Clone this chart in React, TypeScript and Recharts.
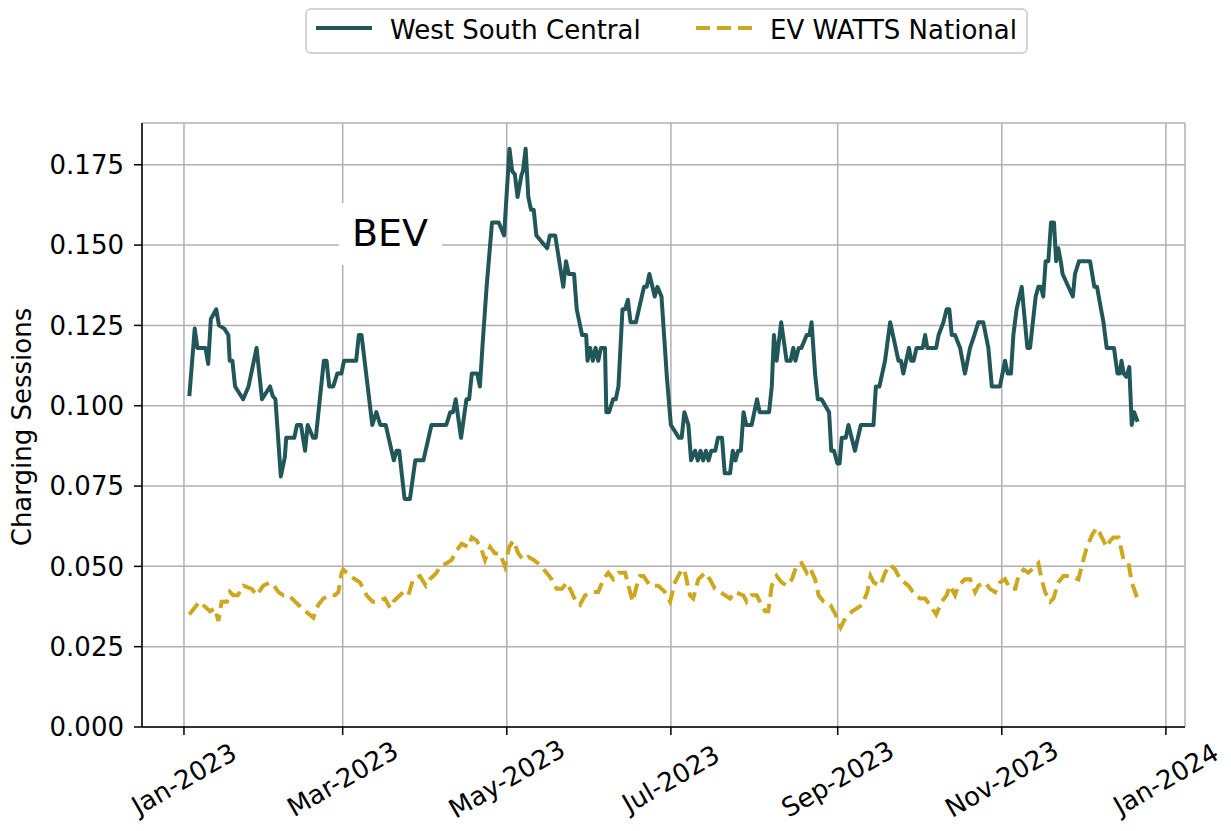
import React from 'react';
import {
  LineChart,
  Line,
  XAxis,
  YAxis,
  CartesianGrid,
  Customized,
} from 'recharts';

const FONT = '"DejaVu Sans", Verdana, sans-serif';
const TEAL = '#22575a';
const GOLD = '#cca820';

// x = days since 1 Jan 2023
const tickDays = [0, 59, 120, 181, 243, 304, 365];
const tickLabels = ['Jan-2023', 'Mar-2023', 'May-2023', 'Jul-2023', 'Sep-2023', 'Nov-2023', 'Jan-2024'];
const yTicks = [0, 0.025, 0.05, 0.075, 0.1, 0.125, 0.15, 0.175];

const wscDays = [
  2, 4, 5, 8, 9, 10, 12, 13, 15, 16.5, 17, 18, 19, 22, 24, 27, 29, 32, 33, 34,
  36, 37.5, 38, 41, 42, 43.5, 45, 46, 48, 49, 52, 53, 54, 55.5, 57, 58.5, 59.5, 64, 65, 66,
  68, 70, 71.5, 73, 75, 78, 79, 80, 82, 84, 86, 89, 92, 97.5, 99, 100, 101, 103, 105, 106,
  107, 109, 110, 111, 112.5, 114.5, 117, 119, 121, 122, 123, 124, 125.5, 126, 127, 128, 129, 130, 131, 135,
  136, 138, 141, 142, 143, 145, 146, 148, 149.5, 150, 151, 152, 153, 154, 155, 156.5, 157, 158, 159.5, 160.5,
  161.5, 162.5, 163, 164, 165, 166, 168, 171, 172, 173, 175, 176, 177.5, 179.5, 181, 184, 185, 186, 187.5, 188.5,
  190, 191, 192, 193, 194, 195, 196, 197.5, 198.5, 200, 201, 203, 204, 205, 206, 207, 208, 209, 211, 213,
  214, 217.5, 218.5, 219.3, 220.3, 222, 224, 225.5, 226.5, 227.3, 228.5, 229.5, 231.5, 232.5, 233.3, 234.6, 235.6, 237, 239.8, 240.6,
  241.6, 242.9, 243.7, 244.5, 246, 247, 249.4, 251.6, 256.3, 257.2, 258.5, 260.6, 262.5, 265.6, 266.5, 267.4, 269.5, 270.3, 271.2, 272.3,
  274.6, 275.5, 276.3, 279.6, 280.5, 282.3, 283.5, 284.5, 285.4, 286.6, 288.5, 290.3, 292.2, 293.8, 295.3, 297.1, 299, 300.3, 303.3, 305.2,
  306.2, 307.4, 308.3, 309.5, 311.4, 313.5, 314.5, 316.6, 317.6, 318.6, 319.4, 320.3, 321.3, 322.3, 323.4, 324.2, 325, 325.9, 326.6, 330.4,
  331.2, 332.7, 336.8, 338.4, 339.4, 340.9, 341.8, 343, 345.7, 347, 347.9, 348.5, 349.3, 350.3, 351.4, 352.3, 353.2, 354.5,
];
const wscValues = [
  0.103, 0.124, 0.118, 0.118, 0.113, 0.127, 0.130, 0.125, 0.124, 0.122, 0.114, 0.114, 0.106, 0.102, 0.106, 0.118, 0.102, 0.106, 0.103, 0.102,
  0.078, 0.084, 0.090, 0.090, 0.094, 0.094, 0.086, 0.094, 0.090, 0.090, 0.114, 0.114, 0.106, 0.106, 0.110, 0.110, 0.114, 0.114, 0.122, 0.122,
  0.108, 0.094, 0.098, 0.094, 0.094, 0.083, 0.086, 0.086, 0.071, 0.071, 0.083, 0.083, 0.094, 0.094, 0.098, 0.098, 0.102, 0.090, 0.102, 0.102,
  0.110, 0.110, 0.106, 0.119, 0.137, 0.157, 0.157, 0.153, 0.180, 0.173, 0.172, 0.165, 0.172, 0.173, 0.180, 0.165, 0.161, 0.161, 0.153, 0.149,
  0.153, 0.153, 0.137, 0.145, 0.141, 0.141, 0.130, 0.122, 0.122, 0.114, 0.118, 0.114, 0.118, 0.114, 0.118, 0.118, 0.098, 0.098, 0.102, 0.102,
  0.106, 0.122, 0.130, 0.130, 0.133, 0.126, 0.126, 0.137, 0.137, 0.141, 0.134, 0.137, 0.134, 0.109, 0.094, 0.090, 0.090, 0.098, 0.094, 0.083,
  0.086, 0.083, 0.086, 0.083, 0.086, 0.083, 0.086, 0.086, 0.090, 0.090, 0.079, 0.079, 0.086, 0.083, 0.086, 0.086, 0.098, 0.094, 0.094, 0.102,
  0.098, 0.098, 0.106, 0.122, 0.114, 0.126, 0.114, 0.114, 0.118, 0.114, 0.118, 0.118, 0.122, 0.122, 0.126, 0.110, 0.102, 0.102, 0.098, 0.086,
  0.086, 0.082, 0.082, 0.090, 0.090, 0.094, 0.086, 0.094, 0.094, 0.106, 0.106, 0.114, 0.126, 0.114, 0.114, 0.110, 0.118, 0.114, 0.114, 0.118,
  0.118, 0.122, 0.118, 0.118, 0.122, 0.126, 0.130, 0.130, 0.122, 0.122, 0.118, 0.110, 0.118, 0.122, 0.126, 0.126, 0.118, 0.106, 0.106, 0.114,
  0.110, 0.110, 0.122, 0.130, 0.137, 0.118, 0.118, 0.134, 0.137, 0.137, 0.134, 0.145, 0.145, 0.157, 0.157, 0.145, 0.149, 0.145, 0.141, 0.134,
  0.141, 0.145, 0.145, 0.137, 0.137, 0.130, 0.126, 0.118, 0.118, 0.110, 0.110, 0.114, 0.110, 0.109, 0.112, 0.094, 0.098, 0.095,
];

const natDays = [
  2, 5.7, 9.7, 11.5, 12.8, 14, 16, 17.1, 18.3, 20, 22.1, 25.2, 27, 29.5, 32, 33.5, 35.1, 36.9, 39, 41.3,
  43.8, 48.1, 49.9, 51.8, 54.3, 56.1, 57.4, 58.6, 59.2, 61.7, 63.6, 65.4, 67.9, 70.1, 71.6, 74.7, 76.6, 77.8, 79, 81.5,
  83.4, 85.2, 87.7, 89.9, 91.4, 93.9, 95.1, 97.7, 99.5, 101.4, 103.2, 105.7, 107, 108.8, 110.7, 111.9, 113.8, 115.6, 117.5, 119.3,
  120.9, 122.4, 124.3, 126.1, 128, 130, 132.3, 134.8, 136.7, 138.5, 140.5, 142.3, 144.1, 145.7, 147.2, 149.1, 152.2, 154, 155.9, 157.7,
  159.6, 161.5, 164, 165.2, 166.8, 168.3, 169.5, 170.8, 173.2, 176.3, 178.8, 180.7, 182.5, 185, 186, 188.1, 189.3, 191.2, 193.7, 195.5,
  197.4, 199.3, 201.1, 203, 204.8, 207.9, 209.2, 211, 212.9, 214.1, 216, 217.2, 218.5, 220.3, 222.2, 224.1, 226, 227.8, 229.6, 231.5,
  232.7, 234.6, 235.9, 237.8, 240.3, 242.2, 244.1, 245.9, 248.4, 252.1, 254, 255.2, 256.4, 258.9, 260.6, 262.5, 264.4, 266.2, 269.3, 271.8,
  273.6, 275.5, 277.3, 279.6, 281.7, 283.5, 284.8, 286.6, 287.9, 290.3, 292.2, 294.1, 295.3, 297.8, 299.6, 301.5, 303.3, 305.2, 307.1, 309,
  310.2, 312.1, 313.9, 315.7, 317.6, 318.8, 320.1, 322, 323.2, 325, 326.9, 329.4, 332.5, 334, 335.6, 337.7, 339.3, 340.6, 343, 344.3,
  345.5, 347.4, 349.3, 351.1, 352.3, 354.4,
];
const natValues = [
  0.035, 0.039, 0.036, 0.037, 0.033, 0.039, 0.039, 0.042, 0.041, 0.041, 0.044, 0.043, 0.041, 0.044, 0.045, 0.044, 0.042, 0.041, 0.041, 0.039,
  0.037, 0.034, 0.038, 0.040, 0.041, 0.041, 0.042, 0.048, 0.049, 0.047, 0.046, 0.045, 0.041, 0.039, 0.039, 0.040, 0.037, 0.039, 0.040, 0.042,
  0.041, 0.046, 0.047, 0.044, 0.046, 0.048, 0.050, 0.051, 0.052, 0.055, 0.057, 0.056, 0.059, 0.058, 0.055, 0.052, 0.056, 0.054, 0.054, 0.050,
  0.056, 0.058, 0.054, 0.052, 0.053, 0.052, 0.0505, 0.048, 0.046, 0.043, 0.043, 0.045, 0.042, 0.039, 0.038, 0.041, 0.042, 0.042, 0.046, 0.048,
  0.046, 0.048, 0.048, 0.044, 0.039, 0.044, 0.047, 0.047, 0.044, 0.044, 0.042, 0.039, 0.045, 0.049, 0.049, 0.041, 0.040, 0.046, 0.048, 0.046,
  0.043, 0.042, 0.041, 0.040, 0.042, 0.041, 0.039, 0.041, 0.041, 0.039, 0.036, 0.036, 0.044, 0.047, 0.045, 0.044, 0.046, 0.0505, 0.051, 0.048,
  0.0495, 0.046, 0.041, 0.039, 0.038, 0.035, 0.031, 0.034, 0.036, 0.038, 0.042, 0.047, 0.045, 0.044, 0.048, 0.0505, 0.049, 0.046, 0.044, 0.041,
  0.040, 0.040, 0.038, 0.035, 0.039, 0.041, 0.044, 0.041, 0.044, 0.046, 0.046, 0.042, 0.044, 0.045, 0.043, 0.042, 0.045, 0.046, 0.043, 0.043,
  0.047, 0.049, 0.048, 0.0495, 0.051, 0.046, 0.042, 0.039, 0.040, 0.045, 0.047, 0.047, 0.046, 0.051, 0.056, 0.060, 0.062, 0.060, 0.056, 0.058,
  0.059, 0.059, 0.052, 0.051, 0.045, 0.040,
];

const wscData = wscDays.map((d, i) => ({ d, v: wscValues[i] }));
const natData = natDays.map((d, i) => ({ d, v: natValues[i] }));

function XTick({ x, y, payload }: any) {
  const i = tickDays.indexOf(payload.value);
  const cy = y + 42;
  return (
    <text
      x={x}
      y={cy}
      transform={`rotate(-30 ${x} ${cy})`}
      textAnchor="middle"
      dominantBaseline="central"
      fontSize={26}
      fontFamily={FONT}
      fill="#000"
    >
      {tickLabels[i]}
    </text>
  );
}

function Annotations() {
  return (
    <g>
      <rect x={331} y={195} width={103} height={62} fill="#fff" />
      <text x={382} y={238} textAnchor="middle" fontSize={38} fontFamily={FONT} fill="#000">
        BEV
      </text>
      <text
        x={14}
        y={419}
        transform="rotate(-90 14 419)"
        textAnchor="middle"
        dominantBaseline="central"
        fontSize={26}
        fontFamily={FONT}
        fill="#000"
      >
        Charging Sessions
      </text>
    </g>
  );
}

function LegendBox() {
  return (
    <div
      style={{
        position: 'absolute',
        left: 297,
        top: 0,
        width: 719,
        height: 42,
        border: '2px solid #d4d4d4',
        borderRadius: 6,
        background: '#fff',
        fontFamily: FONT,
        fontSize: 26,
        color: '#000',
      }}
    >
      <svg style={{ position: 'absolute', left: 7, top: 13 }} width={60} height={10}>
        <line x1={2} y1={5} x2={58} y2={5} stroke={TEAL} strokeWidth={4} />
      </svg>
      <span style={{ position: 'absolute', left: 83, top: 3, lineHeight: '34px', whiteSpace: 'nowrap' }}>
        West South Central
      </span>
      <svg style={{ position: 'absolute', left: 387, top: 13 }} width={60} height={10}>
        <line x1={2} y1={5} x2={58} y2={5} stroke={GOLD} strokeWidth={4} strokeDasharray="14 7" />
      </svg>
      <span style={{ position: 'absolute', left: 463, top: 3, lineHeight: '34px', whiteSpace: 'nowrap' }}>
        EV WATTS National
      </span>
    </div>
  );
}

export default function App() {
  return (
    <div style={{ position: 'relative', width: 1215, height: 815 }}>
      <LineChart width={1215} height={815} margin={{ top: 115, right: 38, bottom: 0, left: 0 }}>
        <CartesianGrid stroke="#b0b0b0" strokeWidth={1.5} />
        <XAxis
          dataKey="d"
          type="number"
          domain={[-15.6, 372.1]}
          ticks={tickDays}
          interval={0}
          allowDataOverflow
          axisLine={{ stroke: '#000', strokeWidth: 1.5 }}
          tickLine={{ stroke: '#000', strokeWidth: 1.5 }}
          tickSize={8}
          tick={<XTick />}
          height={96}
        />
        <YAxis
          type="number"
          domain={[0, 0.188]}
          ticks={yTicks}
          interval={0}
          allowDataOverflow
          width={134}
          axisLine={{ stroke: '#000', strokeWidth: 1.5 }}
          tickLine={{ stroke: '#000', strokeWidth: 1.5 }}
          tickSize={8}
          tickMargin={10}
          tickFormatter={(v: number) => v.toFixed(3)}
          tick={{ fontSize: 26, fontFamily: FONT, fill: '#000' }}
        />
        <Customized component={Annotations} />
        <Line
          data={wscData}
          dataKey="v"
          type="linear"
          stroke={TEAL}
          strokeWidth={4}
          strokeLinejoin="round"
          dot={false}
          activeDot={false}
          isAnimationActive={false}
        />
        <Line
          data={natData}
          dataKey="v"
          type="linear"
          stroke={GOLD}
          strokeWidth={4}
          strokeDasharray="14 7"
          dot={false}
          activeDot={false}
          isAnimationActive={false}
        />
      </LineChart>
      <LegendBox />
    </div>
  );
}
